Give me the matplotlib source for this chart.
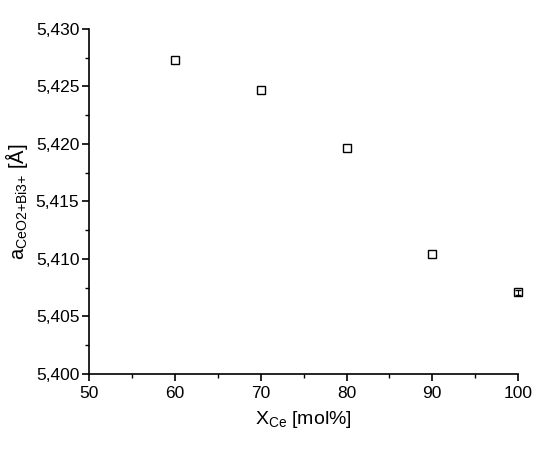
import numpy as np
import matplotlib
matplotlib.use("Agg")
import matplotlib.pyplot as plt
from matplotlib.ticker import MultipleLocator, FuncFormatter

plt.rcParams['font.family'] = ['Liberation Sans', 'DejaVu Sans']
plt.rcParams['mathtext.fontset'] = 'custom'
plt.rcParams['mathtext.rm'] = 'Liberation Sans'
plt.rcParams['mathtext.it'] = 'Liberation Sans:italic'

x_ce = [60, 70, 80, 90, 100]
lattice = [5.4273, 5.4247, 5.4196, 5.4104, 5.4071]
# only the last point has a visible (tiny) error bar
err_x = [100]
err_y = [5.4071]
err_val = [0.0002]

fig = plt.figure(figsize=(5.5, 4.51), dpi=100)
ax = fig.add_axes([0.162, 0.171, 0.780, 0.765])

ax.plot(x_ce, lattice, 's', ms=5.5, mfc='none', mec='black', mew=1.0,
        clip_on=False)
ax.errorbar(err_x, err_y, yerr=err_val, fmt='none', ecolor='black',
            elinewidth=0.8, capsize=2.2, clip_on=False)

ax.set_xlim(50, 100)
ax.set_ylim(5.400, 5.430)
ax.xaxis.set_major_locator(MultipleLocator(10))
ax.xaxis.set_minor_locator(MultipleLocator(5))
ax.yaxis.set_major_locator(MultipleLocator(0.005))
ax.yaxis.set_minor_locator(MultipleLocator(0.0025))
ax.yaxis.set_major_formatter(FuncFormatter(lambda v, p: f"{v:.3f}".replace('.', ',')))

for s in ['top', 'right']:
    ax.spines[s].set_visible(False)
for s in ['left', 'bottom']:
    ax.spines[s].set_linewidth(1.2)
ax.tick_params(which='major', direction='out', length=5, width=1.2, labelsize=12.5)
ax.tick_params(axis='y', which='major', pad=2)
ax.tick_params(which='minor', direction='out', length=3, width=1.0)

ax.set_xlabel(r'X$_{\mathrm{Ce}}$ [mol%]', fontsize=14, labelpad=6)
ax.set_ylabel(r'a$_{\mathrm{CeO2{+}Bi3{+}}}$ [Å]', fontsize=14.5, labelpad=4)

fig.savefig('out.png', dpi=100)
